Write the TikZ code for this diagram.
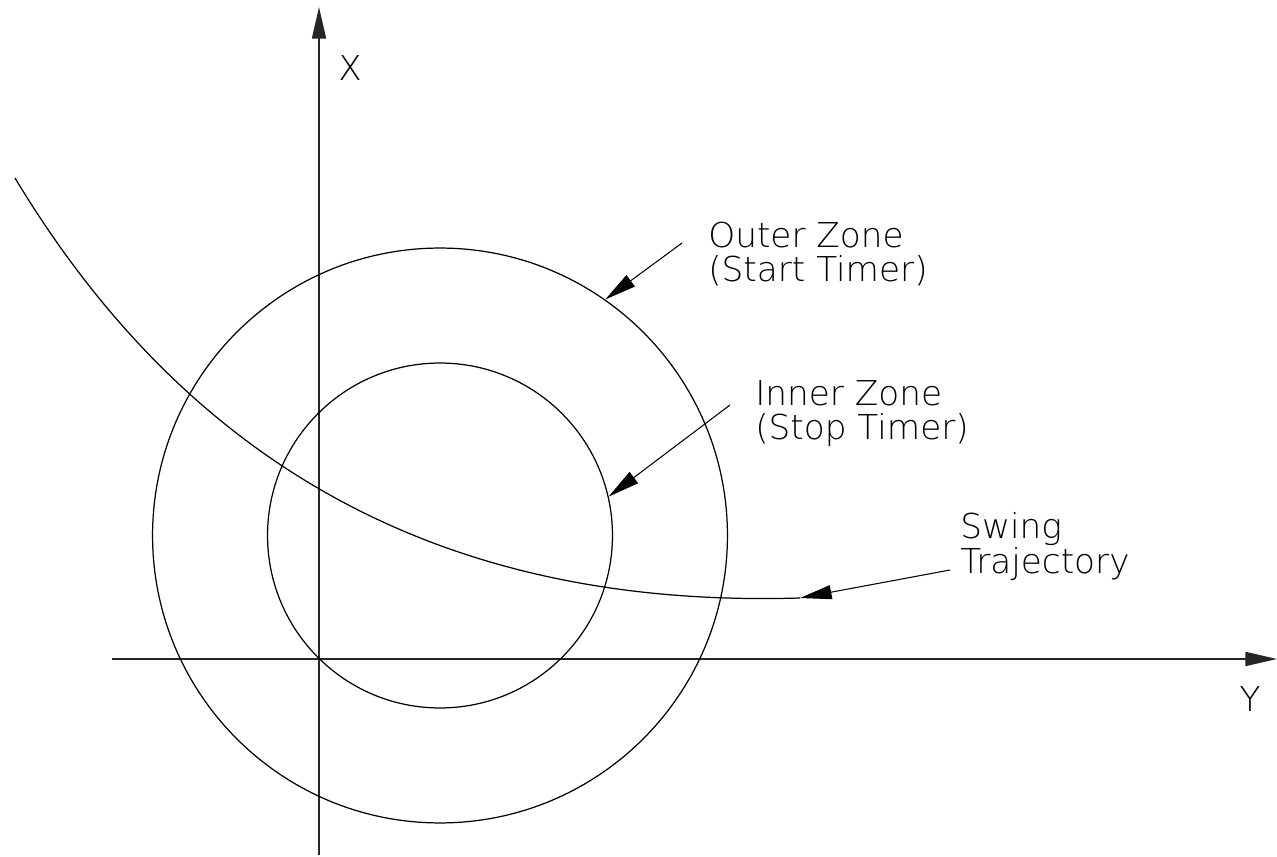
\documentclass[tikz,border=0pt]{standalone}
\usepackage{fontspec}
\newfontfamily\cadfont{DejaVu Sans ExtraLight}
\usetikzlibrary{arrows.meta}

\begin{document}
\begin{tikzpicture}[
  x=0.02cm, y=-0.02cm,
  >={Triangle[length=18pt,width=8pt]},
  axis/.style={->, line width=0.9pt, black!85},
  zone/.style={circle, draw, line width=0.7pt, inner sep=0pt},
  leader/.style={->, line width=0.6pt},
  lbl/.style={font=\cadfont\fontsize{19.5}{19.9}\selectfont, align=left,
              anchor=base west, inner sep=0pt},
  axlbl/.style={font=\cadfont\fontsize{19.5}{19.9}\selectfont, inner sep=0pt}
]
\useasboundingbox (0,0) rectangle (1277,857);

%% Axes
\coordinate (xtail) at (319,855);
\coordinate (xtip)  at (319,7);
\coordinate (ytail) at (112,659);
\coordinate (ytip)  at (1277,659);
\draw[axis] (xtail) -- (xtip);
\draw[axis] (ytail) -- (ytip);
\node[axlbl] (xlab) at (350,68)   {X};
\node[axlbl] (ylab) at (1250,699) {Y};

%% Zones
\node[zone, minimum size=11.5cm] (outer) at (440,535.5) {};
\node[zone, minimum size=6.9cm]  (inner) at (440,535.5) {};

%% Swing trajectory
\coordinate (trajstart) at (15,178);
\coordinate (trajend)   at (800,598);
\draw[line width=0.7pt] (trajstart) .. controls (215,510) and (500,607) .. (trajend);

%% Labels and leaders
\node[lbl] (outerlab) at (708,282) {Outer Zone\\(Start Timer)};
\node[lbl] (innerlab) at (755,440) {Inner Zone\\(Stop Timer)};
\node[lbl] (swinglab) at (960,573) {Swing\\Trajectory};
\coordinate (outertail) at (682,243);
\coordinate (innertail) at (730,405);
\coordinate (swingtail) at (950,570);
\draw[leader] (outertail) -- (outer.55);
\draw[leader] (innertail) -- (inner.13);
\draw[leader] (swingtail) -- (trajend);
\end{tikzpicture}
\end{document}
